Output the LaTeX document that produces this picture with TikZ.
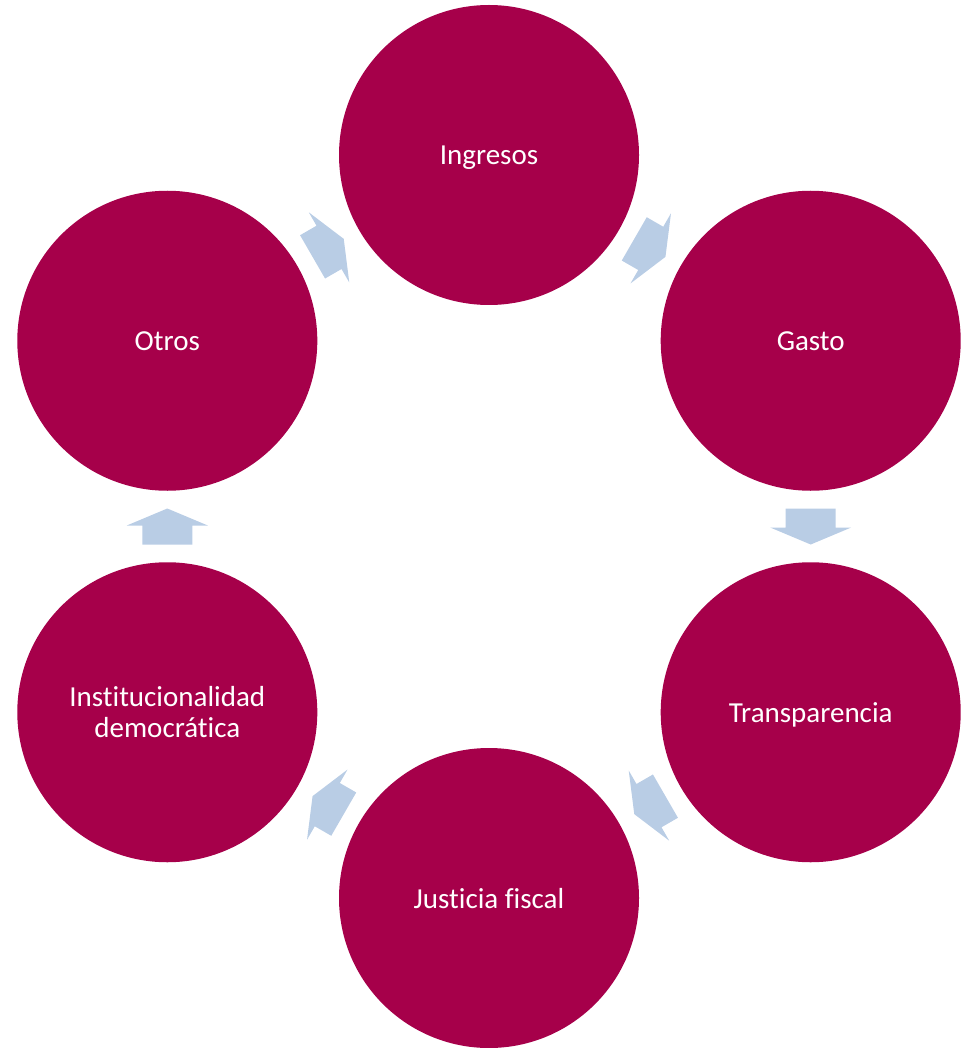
\documentclass[tikz,border=0pt]{standalone}
\usepackage{fontspec}
\setmainfont{Carlito}[Ligatures=NoCommon]
\usetikzlibrary{calc}
\definecolor{topicfill}{RGB}{166,0,74}
\definecolor{arrowfill}{RGB}{185,205,229}
\tikzset{
  topic/.style={circle, fill=topicfill, draw=none, minimum size=225pt, inner sep=0pt,
    text=white, align=center, text depth=0pt, font=\fontsize{21.75}{23.5}\selectfont},
  cyclearrow/.pic={\fill[arrowfill] (-18,-25) -- (1,-25) -- (1,-40.5) -- (18,0) -- (1,40.5) -- (1,25) -- (-18,25) -- cycle;}
}
\begin{document}
\begin{tikzpicture}[x=0.75pt,y=-0.75pt]
\useasboundingbox (0,0) rectangle (966,1048);
\node[topic] (ing) at (489,155) {Ingresos};
\node[topic] (gas) at (810.7,340.75) {Gasto};
\node[topic] (tra) at (810.7,712.25) {Transparencia};
\node[topic] (jus) at (489,898) {Justicia fiscal};
\node[topic] (ins) at (167.3,712.25) {Institucionalidad\\democrática};
\node[topic] (otr) at (167.3,340.75) {Otros};
\pic[rotate=-30] at ($(ing)!0.5!(gas)$) {cyclearrow};
\pic[rotate=-90] at ($(gas)!0.5!(tra)$) {cyclearrow};
\pic[rotate=-150] at ($(tra)!0.5!(jus)$) {cyclearrow};
\pic[rotate=150] at ($(jus)!0.5!(ins)$) {cyclearrow};
\pic[rotate=90] at ($(ins)!0.5!(otr)$) {cyclearrow};
\pic[rotate=30] at ($(otr)!0.5!(ing)$) {cyclearrow};
\end{tikzpicture}
\end{document}
